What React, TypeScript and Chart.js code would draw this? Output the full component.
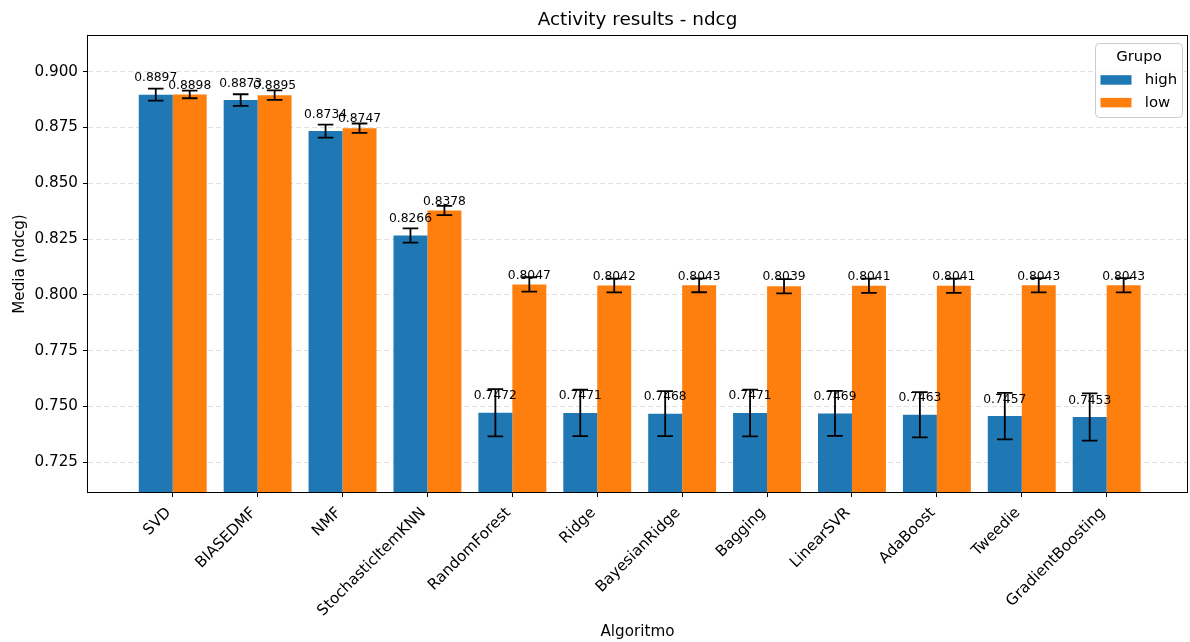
import { useEffect, useRef } from 'react';
import { Chart, registerables } from 'chart.js';

Chart.register(...registerables);

// Algorithms, in the order they are plotted
const categories = [
  'SVD',
  'BIASEDMF',
  'NMF',
  'StochasticItemKNN',
  'RandomForest',
  'Ridge',
  'BayesianRidge',
  'Bagging',
  'LinearSVR',
  'AdaBoost',
  'Tweedie',
  'GradientBoosting',
];

const groupLabels = ['high', 'low'];

// Mean ndcg per algorithm and group
const highMeans = [0.8897, 0.8873, 0.8734, 0.8266, 0.7472, 0.7471, 0.7468, 0.7471, 0.7469, 0.7463, 0.7457, 0.7453];
const lowMeans = [0.8898, 0.8895, 0.8747, 0.8378, 0.8047, 0.8042, 0.8043, 0.8039, 0.8041, 0.8041, 0.8043, 0.8043];

// Error-bar half widths
const highErrors = [0.0027, 0.0026, 0.0029, 0.0032, 0.0106, 0.0104, 0.0101, 0.0105, 0.0101, 0.0101, 0.0104, 0.0106];
const lowErrors = [0.0017, 0.0021, 0.0021, 0.0021, 0.0032, 0.0031, 0.0031, 0.0032, 0.0032, 0.0032, 0.0032, 0.0032];

const groupColors = ['#1f77b4', '#ff7f0e'];

const FONT = "'DejaVu Sans', 'Liberation Sans', sans-serif";
const TICK_SIZE = 15.2;

// Error bars plus the numeric label above each bar
const errorBarPlugin = {
  id: 'errorBars',
  afterDatasetsDraw(chart: any) {
    const { ctx, scales } = chart;
    const y = scales.y;
    const labelLift = [13.5, 5.7];
    const cap = 7.8;
    ctx.save();
    chart.data.datasets.forEach((ds: any, di: number) => {
      const meta = chart.getDatasetMeta(di);
      if (meta.hidden) return;
      meta.data.forEach((bar: any, i: number) => {
        const v = ds.data[i].y as number;
        const e = ds.errors[i] as number;
        const x = bar.x;
        const yTop = y.getPixelForValue(v + e);
        const yBot = y.getPixelForValue(v - e);
        ctx.strokeStyle = '#000';
        ctx.lineWidth = 1.8;
        ctx.beginPath();
        ctx.moveTo(x, yTop);
        ctx.lineTo(x, yBot);
        ctx.moveTo(x - cap, yTop);
        ctx.lineTo(x + cap, yTop);
        ctx.moveTo(x - cap, yBot);
        ctx.lineTo(x + cap, yBot);
        ctx.stroke();
      });
    });
    ctx.fillStyle = '#000';
    ctx.font = `12.3px ${FONT}`;
    ctx.textAlign = 'center';
    ctx.textBaseline = 'alphabetic';
    chart.data.datasets.forEach((ds: any, di: number) => {
      const meta = chart.getDatasetMeta(di);
      meta.data.forEach((bar: any, i: number) => {
        const v = ds.data[i].y as number;
        ctx.fillText(v.toFixed(4), bar.x, y.getPixelForValue(v) - labelLift[di]);
      });
    });
    ctx.restore();
  },
};

// Axes frame and the boxed legend in the upper right corner
const frameLegendPlugin = {
  id: 'frameLegend',
  afterDraw(chart: any) {
    const { ctx, chartArea } = chart;
    ctx.save();
    ctx.strokeStyle = '#000';
    ctx.lineWidth = 1;
    ctx.strokeRect(
      Math.round(chartArea.left) - 0.5,
      Math.round(chartArea.top) - 0.5,
      Math.round(chartArea.right - chartArea.left) + 1,
      Math.round(chartArea.bottom - chartArea.top) + 1
    );

    const w = 87;
    const h = 74;
    const x0 = chartArea.right - 4.5 - w;
    const y0 = chartArea.top + 7.5;
    ctx.beginPath();
    ctx.roundRect(x0, y0, w, h, 4);
    ctx.fillStyle = 'rgba(255,255,255,0.8)';
    ctx.fill();
    ctx.strokeStyle = '#cccccc';
    ctx.lineWidth = 1;
    ctx.stroke();

    ctx.fillStyle = '#000';
    ctx.font = `14.9px ${FONT}`;
    ctx.textBaseline = 'middle';
    ctx.textAlign = 'center';
    ctx.fillText('Grupo', x0 + w / 2, y0 + 13.5);
    ctx.textAlign = 'left';
    chart.data.datasets.forEach((ds: any, di: number) => {
      const rowTop = y0 + 31.7 + di * 22.7;
      ctx.fillStyle = ds.backgroundColor;
      ctx.fillRect(x0 + 5, rowTop, 31, 9.5);
      ctx.fillStyle = '#000';
      ctx.fillText(ds.label, x0 + 49.3, rowTop + 5);
    });
    ctx.restore();
  },
};

export default function App() {
  const canvasRef = useRef<HTMLCanvasElement | null>(null);

  useEffect(() => {
    if (!canvasRef.current) return;
    const toPoints = (vals: number[]) => vals.map((v, i) => ({ x: i, y: v }));
    const chart = new Chart(canvasRef.current, {
      type: 'bar',
      data: {
        datasets: [
          {
            label: groupLabels[0],
            data: toPoints(highMeans),
            errors: highErrors,
            backgroundColor: groupColors[0],
            borderWidth: 0,
          } as any,
          {
            label: groupLabels[1],
            data: toPoints(lowMeans),
            errors: lowErrors,
            backgroundColor: groupColors[1],
            borderWidth: 0,
          } as any,
        ],
      },
      options: {
        animation: false,
        responsive: true,
        maintainAspectRatio: false,
        layout: { padding: { left: 0, right: 3, top: 0, bottom: 0 } },
        datasets: {
          bar: { categoryPercentage: 0.8, barPercentage: 1.0 },
        },
        plugins: {
          legend: { display: false },
          tooltip: { enabled: false },
          title: {
            display: true,
            fullSize: false,
            text: 'Activity results - ndcg',
            color: '#000',
            font: { family: FONT, size: 18.4, weight: 'normal' },
            padding: { top: 9, bottom: 4.9 },
          },
        },
        scales: {
          x: {
            type: 'linear',
            min: -0.998,
            max: 11.946,
            offset: false,
            afterFit: (scale: any) => {
              scale.height = 150;
            },
            ticks: {
              stepSize: 1,
              includeBounds: false,
              autoSkip: false,
              minRotation: 45,
              maxRotation: 45,
              padding: 7,
              labelOffset: -4,
              color: '#000',
              font: { family: FONT, size: TICK_SIZE },
              callback: (value: any) => {
                const i = Math.round(Number(value));
                return Math.abs(Number(value) - i) < 1e-6 ? categories[i] ?? '' : '';
              },
            },
            grid: {
              display: true,
              offset: false,
              drawOnChartArea: false,
              drawTicks: true,
              tickLength: 5,
              tickColor: '#000',
              color: '#000',
            },
            border: { display: false },
            title: {
              display: true,
              text: 'Algoritmo',
              color: '#000',
              font: { family: FONT, size: TICK_SIZE },
              padding: { top: 1, bottom: 1 },
            },
          },
          y: {
            type: 'linear',
            min: 0.7117,
            max: 0.916,
            afterFit: (scale: any) => {
              scale.width = 88;
            },
            ticks: {
              stepSize: 0.025,
              includeBounds: false,
              padding: 5,
              color: '#000',
              font: { family: FONT, size: TICK_SIZE },
              callback: (value: any) => Number(value).toFixed(3),
            },
            grid: {
              display: true,
              drawOnChartArea: true,
              drawTicks: true,
              tickLength: 5,
              tickColor: '#000',
              color: 'rgba(176,176,176,0.4)',
              lineWidth: 1,
            },
            border: { display: false, dash: [5, 3] },
            title: {
              display: true,
              text: 'Media (ndcg)',
              color: '#000',
              font: { family: FONT, size: TICK_SIZE },
              padding: { top: 11, bottom: 0 },
            },
          },
        },
      } as any,
      plugins: [errorBarPlugin, frameLegendPlugin],
    });
    return () => chart.destroy();
  }, []);

  return (
    <div style={{ position: 'fixed', left: 0, top: 0, width: 1190, height: 642, background: '#fff' }}>
      <canvas ref={canvasRef} />
    </div>
  );
}
